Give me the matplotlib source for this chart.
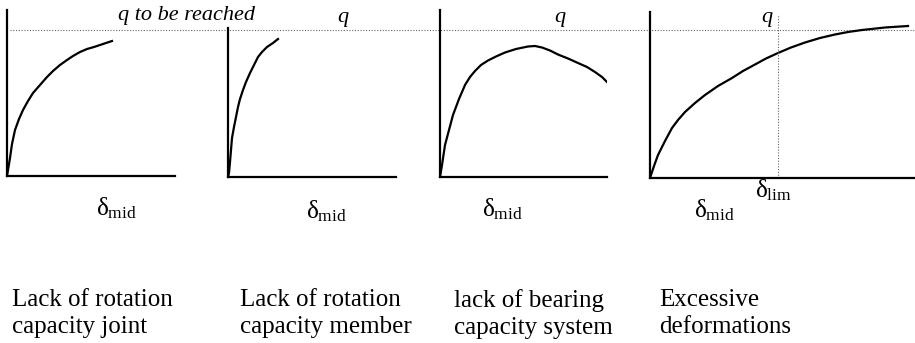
import matplotlib
matplotlib.use('Agg')
import matplotlib.pyplot as plt

plt.rcParams['font.family'] = ['Liberation Serif', 'DejaVu Serif']
plt.rcParams['mathtext.fontset'] = 'custom'
plt.rcParams['mathtext.rm'] = 'Liberation Serif'
plt.rcParams['mathtext.it'] = 'Liberation Serif'

# load (q) vs mid-span deflection (delta) curves (panel units = px)
d_joint = [0, 1, 3, 5, 8, 12, 16, 21, 26, 33, 40, 46, 53, 60, 66, 73, 80, 87, 93, 99, 105]
q_joint = [0, 6, 18, 32, 46, 57, 66, 75, 83, 91, 99, 105, 111, 116, 120, 124, 127, 129, 131, 133, 135]

d_member = [0, 1, 2, 3, 4, 6, 8, 10, 12, 15, 18, 22, 26, 30, 34, 39, 45, 50]
q_member = [0, 4, 15, 27, 39, 50, 60, 70, 78, 87, 95, 104, 112, 120, 125, 130, 134, 138]

d_system = [0, 2, 5, 9, 13, 19, 25, 30, 35, 41, 48, 56, 65, 76, 88, 95, 102, 110,
            118, 128, 138, 147, 155, 162, 168]
q_system = [0, 12, 32, 47, 62, 78, 92, 100, 106, 112, 116.5, 120.5, 124.5, 128, 130.5, 131, 129.5, 126.5,
            122.5, 118.5, 114, 110, 105, 100, 94]

d_deform = [0, 4, 8, 15, 22, 28, 35, 45, 55, 68, 82, 93, 105, 116, 128, 141, 155, 170,
            185, 198, 212, 235, 258]
q_deform = [0, 12, 23, 37, 50, 58, 66, 75, 83, 92, 100, 107, 113.5, 119.5, 125, 130.5, 135.5, 140,
            143.5, 146, 148, 150.5, 152]

d_lim = 128
q_reach = 147

captions = ['Lack of rotation\ncapacity joint',
            'Lack of rotation\ncapacity member',
            'lack of bearing\ncapacity system',
            'Excessive\ndeformations']

W, H = 915, 343
fig = plt.figure(figsize=(W / 100, H / 100), dpi=100)

# overlay in pixel units for the shared q line and the texts
ov = fig.add_axes([0, 0, 1, 1])
ov.set_xlim(0, W)
ov.set_ylim(H, 0)
ov.axis('off')

# (left, bottom, width, height) of each panel in pixels
panels = [(7, 176, 168, 166), (228, 177, 168, 149),
          (440, 177, 167, 167), (650, 178, 265, 166)]
curves = [(d_joint, q_joint), (d_member, q_member),
          (d_system, q_system), (d_deform, q_deform)]

axes = []
for (l, b, w, h), (d, q) in zip(panels, curves):
    ax = fig.add_axes([l / W, (H - b) / H, w / W, h / H])
    ax.set_xlim(0, w)
    ax.set_ylim(0, h)
    ax.patch.set_alpha(0)
    for s in ['top', 'right']:
        ax.spines[s].set_visible(False)
    for s in ['left', 'bottom']:
        ax.spines[s].set_linewidth(1.6)
    ax.set_xticks([])
    ax.set_yticks([])
    ax.plot(d, q, color='black', lw=1.6, solid_joinstyle='round')
    axes.append(ax)

# limit deflection in the last panel
axes[3].axvline(d_lim, ymax=0.985, color='#666666', lw=0.8, ls=(0, (1, 1.5)))

# q level to be reached, across all panels
q_px = panels[0][1] - q_reach + 1
ov.plot([10, W], [q_px, q_px], color='#666666', lw=0.8, ls=(0, (1, 1.5)))

ov.text(187, 20, 'q to be reached', fontsize=16, style='italic',
        ha='center', va='baseline')
for x in [343, 560, 767]:
    ov.text(x, 22, 'q', fontsize=16, style='italic', ha='center', va='baseline')

for x, y in [(116, 208), (326, 211), (502, 209), (714, 210)]:
    ov.text(x, y, r'$\delta_{\mathrm{mid}}$', fontsize=18, ha='center', va='center')
ov.text(773, 190, r'$\delta_{\mathrm{lim}}$', fontsize=18, ha='center', va='center')

for x, txt in zip([12, 240, 454, 659], captions):
    ov.text(x, 289, txt, fontsize=18, ha='left', va='top', linespacing=1.3)

fig.savefig('out.png', dpi=100)
